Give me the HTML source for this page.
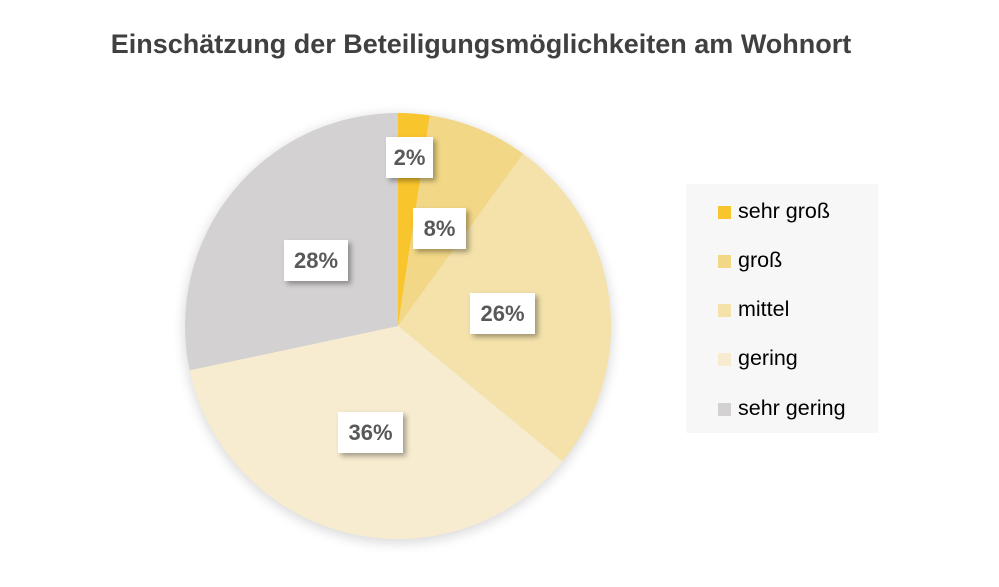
<!DOCTYPE html><html><head><style>
body{margin:0;width:999px;height:587px;background:#fff;overflow:hidden;font-family:"Liberation Sans",sans-serif;position:relative}
.t{position:absolute;left:0;width:962px;top:29px;text-align:center;font-weight:bold;font-size:27px;color:#404040}
.lb{position:absolute;background:#fff;box-shadow:3px 3px 5px rgba(0,0,0,.35);font-weight:bold;font-size:22px;color:#595959;text-align:center;line-height:41px;height:41px}
.lg{position:absolute;left:686px;top:184px;width:192px;height:249px;background:#f7f7f7}
.li{position:absolute;left:32px;font-size:21.5px;color:#000}
.li i{display:inline-block;width:13px;height:13px;margin-right:7px;vertical-align:-1px}
</style></head><body>
<div class="t">Einschätzung der Beteiligungsmöglichkeiten am Wohnort</div>
<svg width="999" height="587" style="position:absolute;left:0;top:0">
<defs><filter id="s" x="-20%" y="-20%" width="140%" height="140%"><feGaussianBlur stdDeviation="6"/></filter></defs>
<circle cx="398" cy="329" r="214" fill="#000" opacity=".15" filter="url(#s)"/>
<path d="M398 326L398 113A213 213 0 0 1 429.8 115.4Z" fill="#F9C52D"/>
<path d="M398 326L429.8 115.4A213 213 0 0 1 523.2 153.7Z" fill="#F2D886"/>
<path d="M398 326L523.2 153.7A213 213 0 0 1 562.4 461.5Z" fill="#F4E2AA"/>
<path d="M398 326L562.4 461.5A213 213 0 0 1 189.7 370.3Z" fill="#F7ECD0"/>
<path d="M398 326L189.7 370.3A213 213 0 0 1 398 113Z" fill="#D3D1D1"/>
</svg>
<div class="lb" style="left:386px;top:137px;width:47px">2%</div>
<div class="lb" style="left:413px;top:208px;width:53px">8%</div>
<div class="lb" style="left:470px;top:293px;width:65px">26%</div>
<div class="lb" style="left:338px;top:412px;width:65px">36%</div>
<div class="lb" style="left:284px;top:240px;width:64px">28%</div>
<div class="lg">
<div class="li" style="top:15px"><i style="background:#F9C52D"></i>sehr groß</div>
<div class="li" style="top:64px"><i style="background:#F2D886"></i>groß</div>
<div class="li" style="top:113px"><i style="background:#F4E2AA"></i>mittel</div>
<div class="li" style="top:162px"><i style="background:#F7ECD0"></i>gering</div>
<div class="li" style="top:212px"><i style="background:#D3D1D1"></i>sehr gering</div>
</div>
</body></html>
